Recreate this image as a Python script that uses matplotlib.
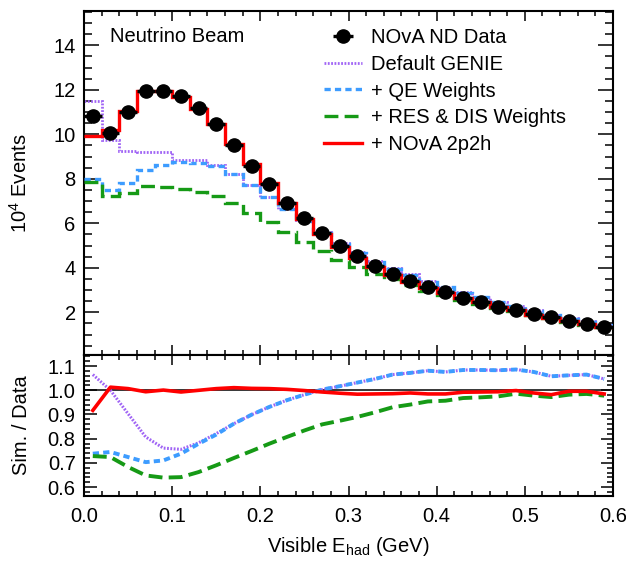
import numpy as np
import matplotlib
matplotlib.use("Agg")
import matplotlib.pyplot as plt
from matplotlib.ticker import MultipleLocator, FormatStrFormatter

plt.rcParams['font.family'] = ['Liberation Sans', 'DejaVu Sans']
plt.rcParams['font.size'] = 14.5
plt.rcParams['mathtext.default'] = 'regular'
plt.rcParams['lines.scale_dashes'] = False

# visible hadronic energy binning (GeV)
bin_edges = np.linspace(0.0, 0.6, 31)
bin_centers = 0.5 * (bin_edges[:-1] + bin_edges[1:])

# events per bin, in units of 10^4
data_nd = [10.84, 10.04, 11.02, 11.96, 11.95, 11.74, 11.17, 10.45, 9.51, 8.59,
           7.76, 6.90, 6.22, 5.55, 4.99, 4.53, 4.08, 3.72, 3.42, 3.12,
           2.91, 2.66, 2.46, 2.25, 2.09, 1.91, 1.78, 1.61, 1.47, 1.35]
genie_default = [11.50, 9.74, 9.25, 9.22, 9.19, 8.84, 8.84, 8.62, 8.20, 7.71,
                 7.17, 6.64, 6.13, 5.60, 5.10, 4.70, 4.30, 3.98, 3.70, 3.39,
                 3.15, 2.90, 2.69, 2.46, 2.29, 2.08, 1.90, 1.73, 1.59, 1.43]
qe_weights = [7.98, 7.50, 7.83, 8.40, 8.62, 8.77, 8.72, 8.58, 8.20, 7.71,
              7.17, 6.62, 6.11, 5.57, 5.07, 4.67, 4.27, 3.96, 3.67, 3.37,
              3.13, 2.88, 2.67, 2.44, 2.27, 2.06, 1.88, 1.71, 1.57, 1.41]
res_dis_weights = [7.87, 7.24, 7.35, 7.68, 7.63, 7.56, 7.42, 7.24, 6.90, 6.48,
                   6.07, 5.59, 5.15, 4.76, 4.35, 4.02, 3.74, 3.48, 3.21, 2.97,
                   2.78, 2.57, 2.39, 2.19, 2.06, 1.87, 1.73, 1.58, 1.45, 1.32]
nova_2p2h = [9.92, 10.19, 11.06, 11.95, 11.95, 11.66, 11.14, 10.45, 9.55, 8.67,
             7.80, 6.93, 6.21, 5.51, 4.93, 4.46, 4.02, 3.67, 3.38, 3.07,
             2.87, 2.64, 2.44, 2.24, 2.09, 1.89, 1.75, 1.60, 1.46, 1.33]

# smoothed simulation / data ratios at bin centres
ratio_genie = [1.065, 1.000, 0.903, 0.807, 0.761, 0.756, 0.783, 0.821, 0.862, 0.899,
               0.931, 0.959, 0.982, 1.003, 1.017, 1.032, 1.047, 1.065, 1.072, 1.081,
               1.076, 1.084, 1.084, 1.083, 1.086, 1.076, 1.058, 1.062, 1.065, 1.047]
ratio_qe = [0.738, 0.745, 0.724, 0.703, 0.710, 0.738, 0.779, 0.817, 0.862, 0.899,
            0.931, 0.959, 0.982, 1.003, 1.017, 1.032, 1.047, 1.065, 1.072, 1.081,
            1.076, 1.084, 1.084, 1.083, 1.086, 1.076, 1.058, 1.062, 1.065, 1.047]
ratio_res_dis = [0.728, 0.724, 0.683, 0.648, 0.639, 0.641, 0.662, 0.690, 0.720, 0.749,
                 0.779, 0.807, 0.834, 0.859, 0.874, 0.890, 0.909, 0.930, 0.941, 0.954,
                 0.957, 0.968, 0.971, 0.975, 0.986, 0.978, 0.972, 0.982, 0.985, 0.978]
ratio_2p2h = [0.917, 1.013, 1.007, 0.994, 1.001, 0.993, 1.000, 1.007, 1.011, 1.008,
              1.007, 1.004, 0.999, 0.993, 0.988, 0.984, 0.985, 0.986, 0.989, 0.985,
              0.985, 0.992, 0.993, 0.994, 0.999, 0.989, 0.982, 0.996, 0.996, 0.985]

c_purple = '#a064f5'
c_blue = '#3d9cff'
c_green = '#169a16'
c_red = '#ff0000'

ls_dot = (0, (1.3, 1.1))
ls_dash = (0, (4.5, 3.0))
ls_long = (0, (10.0, 4.5))

fig = plt.figure(figsize=(6.26, 5.61), dpi=100)
ax1 = fig.add_axes([84 / 626, 206 / 561, 529 / 626, 344 / 561])
ax2 = fig.add_axes([84 / 626, 65 / 561, 529 / 626, 141 / 561])

# top panel: event spectra
ax1.stairs(genie_default, bin_edges, baseline=None, color=c_purple, lw=2.0,
           linestyle=ls_dot, label='Default GENIE', zorder=2)
ax1.stairs(qe_weights, bin_edges, baseline=None, color=c_blue, lw=2.4,
           linestyle=ls_dash, label='+ QE Weights', zorder=3)
ax1.stairs(res_dis_weights, bin_edges, baseline=None, color=c_green, lw=2.4,
           linestyle=ls_long, label='+ RES & DIS Weights', zorder=3)
ax1.stairs(nova_2p2h, bin_edges, baseline=None, color=c_red, lw=2.4,
           label='+ NOvA 2p2h', zorder=4)
h_data = ax1.errorbar(bin_centers, data_nd, xerr=0.01, fmt='o', color='black',
                      ms=9.5, elinewidth=2.4, capsize=0, zorder=5,
                      label='NOvA ND Data')

ax1.set_xlim(0, 0.6)
ax1.set_ylim(0.08, 15.54)
ax1.yaxis.set_major_locator(MultipleLocator(2))
ax1.yaxis.set_minor_locator(MultipleLocator(0.5))
ax1.xaxis.set_major_locator(MultipleLocator(0.1))
ax1.xaxis.set_minor_locator(MultipleLocator(0.02))
ax1.yaxis.set_major_formatter(FormatStrFormatter('%d'))
ax1.tick_params(axis='x', labelbottom=False)
ax1.set_ylabel('10$^{4}$ Events')
ax1.yaxis.set_label_coords(-0.1, 0.5)

ax1.text(0.049, 0.927, 'Neutrino Beam', transform=ax1.transAxes,
         ha='left', va='center')

handles, labels = ax1.get_legend_handles_labels()
order = [labels.index(l) for l in ['NOvA ND Data', 'Default GENIE', '+ QE Weights',
                                   '+ RES & DIS Weights', '+ NOvA 2p2h']]
ax1.legend([handles[i] for i in order], [labels[i] for i in order],
           loc='upper left', bbox_to_anchor=(0.454, 0.95), frameon=False,
           borderpad=0, borderaxespad=0, handlelength=1.9, handletextpad=0.42,
           labelspacing=0.38)

# bottom panel: simulation / data
ax2.axhline(1.0, color='black', lw=1.1, zorder=1)
ax2.plot(bin_centers, ratio_genie, color=c_purple, lw=2.2, linestyle=ls_dot, zorder=2)
ax2.plot(bin_centers, ratio_qe, color=c_blue, lw=2.8, linestyle=ls_dash, zorder=3)
ax2.plot(bin_centers, ratio_res_dis, color=c_green, lw=2.8, linestyle=ls_long, zorder=3)
ax2.plot(bin_centers, ratio_2p2h, color=c_red, lw=2.6, zorder=4)

ax2.set_xlim(0, 0.6)
ax2.set_ylim(0.563, 1.146)
ax2.yaxis.set_major_locator(MultipleLocator(0.1))
ax2.yaxis.set_minor_locator(MultipleLocator(0.02))
ax2.xaxis.set_major_locator(MultipleLocator(0.1))
ax2.xaxis.set_minor_locator(MultipleLocator(0.02))
ax2.xaxis.set_major_formatter(FormatStrFormatter('%.1f'))
ax2.yaxis.set_major_formatter(FormatStrFormatter('%.1f'))
ax2.set_ylabel('Sim. / Data')
ax2.yaxis.set_label_coords(-0.1, 0.5)
fig.text(348 / 626, 14 / 561, 'Visible E$_{had}$ (GeV)', ha='center', va='center')

for ax in (ax1, ax2):
    for sp in ax.spines.values():
        sp.set_linewidth(1.5)
    ax.tick_params(which='both', direction='in', top=True, right=True, width=1.1)

ax1.tick_params(axis='y', which='major', length=11, pad=6)
ax1.tick_params(axis='y', which='minor', length=5.5)
ax1.tick_params(axis='x', which='major', length=7)
ax1.tick_params(axis='x', which='minor', length=3.6)
ax2.tick_params(axis='y', which='major', length=9, pad=6)
ax2.tick_params(axis='y', which='minor', length=4.5)
ax2.tick_params(axis='x', which='major', length=7, pad=8)
ax2.tick_params(axis='x', which='minor', length=3.6)

fig.savefig('out.png', dpi=100)
